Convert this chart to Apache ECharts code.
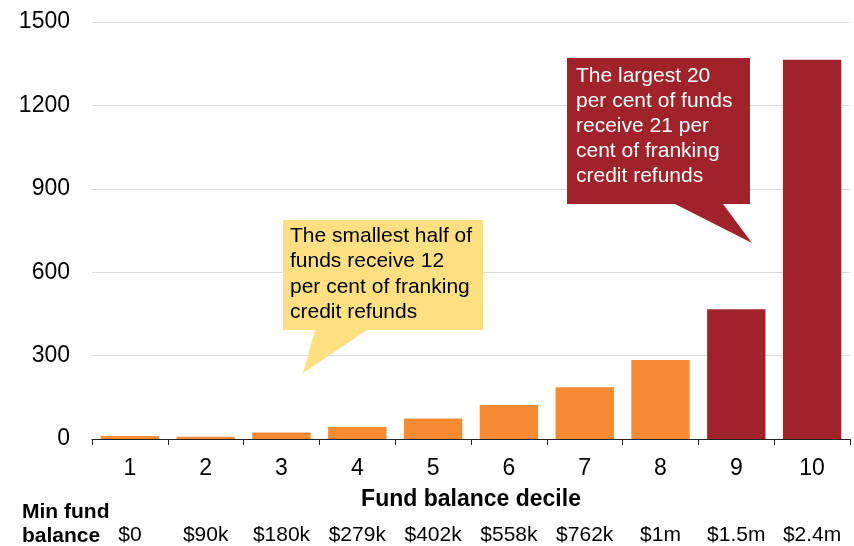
<!DOCTYPE html>
<html>
<head>
<meta charset="utf-8">
<script src="https://cdn.jsdelivr.net/npm/echarts@6/dist/echarts.min.js"></script>
<style>
  html, body { margin: 0; padding: 0; background: #fff; }
  #chart { width: 854px; height: 546px; }
</style>
</head>
<body>
<div id="chart"></div>
<script>
  // deciles and the minimum balance that opens each one
  const deciles = ['1', '2', '3', '4', '5', '6', '7', '8', '9', '10']
  const minFundBalance = ['$0', '$90k', '$180k', '$279k', '$402k', '$558k', '$762k', '$1m', '$1.5m', '$2.4m']
  // franking credit refunds per decile
  const refunds = [11, 8, 23, 43, 74, 122, 186, 284, 467, 1364]
  const largestFrom = 8 // deciles 9 and 10 are highlighted

  const smallNote = ['The smallest half of', 'funds receive 12', 'per cent of franking', 'credit refunds']
  const largeNote = ['The largest 20', 'per cent of funds', 'receive 21 per', 'cent of franking', 'credit refunds']

  const FONT = '"Liberation Sans", Arial, sans-serif'
  const ORANGE = '#F68B33'
  const RED = '#A0222A'
  const YELLOW = '#FEDF82'

  let myChart = echarts.init(document.getElementById('chart'), null, { renderer: 'canvas' })

  let option = {
    animation: false,
    backgroundColor: '#fff',
    textStyle: { fontFamily: FONT },
    grid: { left: 92, right: 4, top: 22, bottom: 106, containLabel: false },
    xAxis: [
      {
        type: 'category',
        data: deciles,
        name: 'Fund balance decile',
        nameLocation: 'middle',
        nameGap: 49,
        nameTextStyle: { fontFamily: FONT, fontSize: 23, fontWeight: 'bold', color: '#000' },
        axisLine: { lineStyle: { color: '#222', width: 1 } },
        axisTick: { show: true, length: 6, lineStyle: { color: '#222' } },
        axisLabel: { fontFamily: FONT, fontSize: 23, color: '#000', margin: 18 },
        splitLine: { show: false }
      },
      {
        type: 'category',
        data: minFundBalance,
        position: 'bottom',
        offset: 80,
        axisLine: { show: false },
        axisTick: { show: false },
        axisLabel: { interval: 0, fontFamily: FONT, fontSize: 21, color: '#000', margin: 6 },
        splitLine: { show: false }
      }
    ],
    yAxis: {
      type: 'value',
      min: 0,
      max: 1500,
      interval: 300,
      axisLine: { show: false },
      axisTick: { show: false },
      axisLabel: {
        fontFamily: FONT,
        fontSize: 23,
        color: '#000',
        margin: 22,
        padding: [6, 0, 0, 0],
        formatter: function (v) { return String(v) }
      },
      splitLine: { lineStyle: { color: '#d9d9d9', width: 1 } }
    },
    series: [
      {
        type: 'bar',
        xAxisIndex: 0,
        data: refunds,
        barCategoryGap: '23%',
        itemStyle: {
          color: function (params) {
            return params.dataIndex >= largestFrom ? RED : ORANGE
          }
        }
      }
    ],
    graphic: [
      // yellow callout
      {
        type: 'polygon',
        shape: { points: [[283, 220], [483, 220], [483, 330], [367, 330], [303, 373], [315, 330], [283, 330]] },
        style: { fill: YELLOW },
        z: 10
      },
      {
        type: 'text',
        left: 290,
        top: 223,
        style: { text: smallNote.join('\n'), font: '21px ' + FONT, lineHeight: 25.5, fill: '#000' },
        z: 11
      },
      // red callout
      {
        type: 'polygon',
        shape: { points: [[567, 58], [750, 58], [750, 204], [723, 204], [752, 243], [675, 204], [567, 204]] },
        style: { fill: RED },
        z: 10
      },
      {
        type: 'text',
        left: 576,
        top: 64,
        style: { text: largeNote.join('\n'), font: '21px ' + FONT, lineHeight: 25, fill: '#fff' },
        z: 11
      },
      // row title for the minimum balances
      {
        type: 'text',
        left: 22,
        top: 500,
        style: { text: 'Min fund\nbalance', font: 'bold 21px ' + FONT, lineHeight: 24, fill: '#000' },
        z: 11
      }
    ]
  }

  myChart.setOption(option)
</script>
</body>
</html>
